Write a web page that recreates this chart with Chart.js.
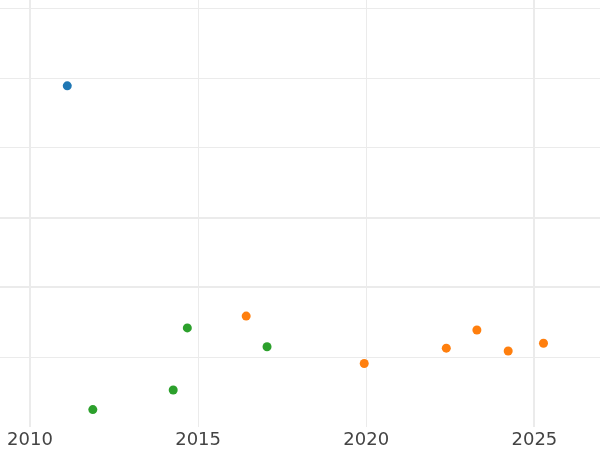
<!DOCTYPE html>
<html>
<head>
<meta charset="utf-8">
<script src="https://cdn.jsdelivr.net/npm/chart.js@4"></script>
<style>
  html, body { margin: 0; padding: 0; background: #fff; }
  #wrap { width: 600px; height: 450px; }
</style>
</head>
<body>
<div id="wrap"><canvas id="chart"></canvas></div>
<script>
// series values (x = year, y = unitless)
const blueX   = [2011.11];
const blueY   = [4.89];
const orangeX = [2016.43, 2019.94, 2022.38, 2023.29, 2024.22, 2025.27];
const orangeY = [1.59, 0.91, 1.13, 1.39, 1.09, 1.20];
const greenX  = [2011.87, 2014.26, 2014.68, 2017.05];
const greenY  = [0.25, 0.53, 1.42, 1.15];

// tick positions
const xTicks = [2010, 2015, 2020, 2025];
const yTicks = [1, 2, 3, 4, 5, 6];

const pts = (xs, ys) => xs.map((x, i) => ({ x, y: ys[i] }));

// grid widths vary a bit in the reference
const xGridW = { 2010: 2, 2015: 1, 2020: 1, 2025: 2 };
const yGridW = { 1: 1, 2: 2, 3: 2, 4: 1, 5: 1, 6: 1 };

function dot(color) {
  return {
    backgroundColor: color,
    borderColor: color,
    pointRadius: 4.5,
    pointBorderWidth: 0,
    pointHoverRadius: 4.5
  };
}

new Chart(document.getElementById("chart"), {
  type: "scatter",
  data: {
    datasets: [
      { label: "a", data: pts(blueX, blueY),     ...dot("#1f77b4") },
      { label: "b", data: pts(orangeX, orangeY), ...dot("#ff7f0e") },
      { label: "c", data: pts(greenX, greenY),   ...dot("#2ca02c") }
    ]
  },
  options: {
    responsive: true,
    maintainAspectRatio: false,
    animation: false,
    layout: { padding: 0, autoPadding: false },
    plugins: { legend: { display: false }, tooltip: { enabled: false } },
    scales: {
      x: {
        type: "linear",
        min: 2009.11,
        max: 2026.95,
        afterBuildTicks: (s) => { s.ticks = xTicks.map(v => ({ value: v })); },
        afterFit: (s) => { s.height = 23; },
        border: { display: false },
        grid: {
          color: "#ebebeb",
          lineWidth: (c) => xGridW[c.tick && c.tick.value] || 1,
          drawTicks: false
        },
        ticks: {
          padding: 3,
          color: "#444",
          font: { family: "DejaVu Sans", size: 18 },
          maxRotation: 0,
          autoSkip: false,
          callback: (v) => String(v)
        }
      },
      y: {
        min: 0,
        max: 6.12,
        afterBuildTicks: (s) => { s.ticks = yTicks.map(v => ({ value: v })); },
        border: { display: false },
        grid: {
          color: "#ebebeb",
          lineWidth: (c) => yGridW[c.tick && c.tick.value] || 1,
          drawTicks: false
        },
        ticks: { display: false }
      }
    }
  }
});
</script>
</body>
</html>
